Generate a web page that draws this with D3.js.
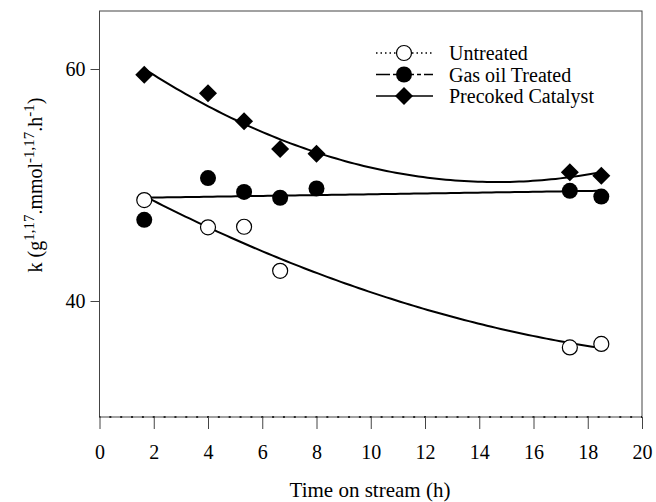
<!DOCTYPE html>
<html>
<head>
    <meta charset="utf-8">
    <title>k vs time on stream</title>
    <script src="https://d3js.org/d3.v7.min.js"></script>
    <style>
        body { margin: 0; background: #fff; }
        text { font-family: "Liberation Serif", "Times New Roman", serif; fill: #000; }
    </style>
</head>
<body>
    <svg width="656" height="502"></svg>
    <script>
        // data
        const xTicks = [0, 2, 4, 6, 8, 10, 12, 14, 16, 18, 20];
        const yTicks = [40, 60];

        const untreatedX = [1.65, 4.0, 5.33, 6.66, 17.34, 18.5];
        const untreatedY = [48.7, 46.35, 46.4, 42.6, 36.0, 36.3];

        const gasOilX = [1.65, 4.0, 5.33, 6.66, 8.0, 17.34, 18.5];
        const gasOilY = [47.0, 50.6, 49.4, 48.9, 49.7, 49.5, 49.0];

        const precokedX = [1.65, 4.0, 5.33, 6.66, 8.0, 17.34, 18.5];
        const precokedY = [59.5, 57.9, 55.5, 53.1, 52.7, 51.1, 50.8];

        const svg = d3.select("svg");

        const x = d3.scaleLinear().domain([0, 20]).range([99.5, 642]);
        const y = d3.scaleLinear().domain([30, 65]).range([417, 11]);

        // least squares polynomial fit (normal equations)
        function polyFit(xs, ys, deg) {
            const n = deg + 1;
            const A = [];
            for (let i = 0; i < n; i++) {
                A.push([]);
                for (let j = 0; j < n; j++) A[i].push(d3.sum(xs, v => Math.pow(v, i + j)));
                A[i].push(d3.sum(xs, (v, k) => Math.pow(v, i) * ys[k]));
            }
            for (let c = 0; c < n; c++) {
                for (let r = c + 1; r < n; r++) {
                    const f = A[r][c] / A[c][c];
                    for (let k = c; k <= n; k++) A[r][k] -= f * A[c][k];
                }
            }
            const coef = new Array(n).fill(0);
            for (let r = n - 1; r >= 0; r--) {
                let s = A[r][n];
                for (let k = r + 1; k < n; k++) s -= A[r][k] * coef[k];
                coef[r] = s / A[r][r];
            }
            return t => coef.reduce((acc, c, i) => acc + c * Math.pow(t, i), 0);
        }

        const series = [
            { name: "Untreated", xs: untreatedX, ys: untreatedY, deg: 2, symbol: "open", dash: "1.5,3" },
            { name: "Gas oil Treated", xs: gasOilX, ys: gasOilY, deg: 1, symbol: "circle", dash: "14,3,4,3" },
            { name: "Precoked Catalyst", xs: precokedX, ys: precokedY, deg: 2, symbol: "diamond", dash: null }
        ];

        // frame
        svg.append("rect")
            .attr("x", x(0)).attr("y", y(65))
            .attr("width", x(20) - x(0)).attr("height", y(30) - y(65))
            .attr("fill", "none").attr("stroke", "#444").attr("stroke-width", 1);

        // dotted line along the bottom
        svg.append("line")
            .attr("x1", x(0)).attr("x2", x(20))
            .attr("y1", y(30)).attr("y2", y(30))
            .attr("stroke", "#000").attr("stroke-width", 1.5)
            .attr("stroke-dasharray", "2," + (x(0.4) - x(0) - 2))
            .attr("stroke-dashoffset", 1);

        // axes
        const xAxis = svg.append("g")
            .attr("transform", `translate(0,${y(30)})`)
            .call(d3.axisBottom(x).tickValues(xTicks).tickSize(12).tickPadding(16).tickFormat(d3.format("d")));
        xAxis.select(".domain").remove();
        xAxis.selectAll(".tick line").attr("stroke", "#444");
        xAxis.selectAll("text").attr("font-size", 20).attr("font-family", "Liberation Serif");

        const yAxis = svg.append("g")
            .attr("transform", `translate(${x(0)},0)`)
            .call(d3.axisLeft(y).tickValues(yTicks).tickSize(9).tickPadding(5));
        yAxis.select(".domain").remove();
        yAxis.selectAll(".tick line").attr("stroke", "#444");
        yAxis.selectAll("text").attr("font-size", 20).attr("font-family", "Liberation Serif");

        // axis titles
        svg.append("text")
            .attr("x", 370).attr("y", 497)
            .attr("text-anchor", "middle")
            .attr("font-size", 21)
            .text("Time on stream (h)");

        const yl = svg.append("text")
            .attr("transform", "translate(42,185) rotate(-90)")
            .attr("text-anchor", "middle")
            .attr("font-size", 20);
        yl.append("tspan").text("k (g");
        yl.append("tspan").attr("dy", -8).attr("font-size", 15).text("1,17");
        yl.append("tspan").attr("dy", 8).text(".mmol");
        yl.append("tspan").attr("dy", -8).attr("font-size", 15).text("-1,17");
        yl.append("tspan").attr("dy", 8).text(".h");
        yl.append("tspan").attr("dy", -8).attr("font-size", 15).text("-1");
        yl.append("tspan").attr("dy", 8).text(")");

        // fitted curves
        const line = d3.line().x(d => x(d[0])).y(d => y(d[1]));
        series.forEach(s => {
            const f = polyFit(s.xs, s.ys, s.deg);
            const [lo, hi] = d3.extent(s.xs);
            const pts = d3.range(0, 101).map(i => {
                const t = lo + (hi - lo) * i / 100;
                return [t, f(t)];
            });
            svg.append("path")
                .attr("d", line(pts))
                .attr("fill", "none")
                .attr("stroke", "#000")
                .attr("stroke-width", 2);
        });

        // markers
        function drawSymbol(g, kind, cx, cy) {
            if (kind === "diamond") {
                g.append("path")
                    .attr("d", `M${cx},${cy - 9}L${cx + 9},${cy}L${cx},${cy + 9}L${cx - 9},${cy}Z`)
                    .attr("fill", "#000");
            } else if (kind === "circle") {
                g.append("circle").attr("cx", cx).attr("cy", cy).attr("r", 8).attr("fill", "#000");
            } else {
                g.append("circle").attr("cx", cx).attr("cy", cy).attr("r", 7.5)
                    .attr("fill", "#fff").attr("stroke", "#000").attr("stroke-width", 1.2);
            }
        }

        const marks = svg.append("g");
        series.forEach(s => {
            s.xs.forEach((v, i) => drawSymbol(marks, s.symbol, x(v), y(s.ys[i])));
        });

        // legend
        const legend = svg.append("g");
        series.forEach((s, i) => {
            const ly = 53 + i * 21.5;
            legend.append("line")
                .attr("x1", 376).attr("x2", 433)
                .attr("y1", ly).attr("y2", ly)
                .attr("stroke", "#000")
                .attr("stroke-width", 1.5)
                .attr("stroke-dasharray", s.dash);
            drawSymbol(legend, s.symbol, 404, ly);
            legend.append("text")
                .attr("x", 449).attr("y", ly + 7)
                .attr("font-size", 20)
                .text(s.name);
        });
    </script>
</body>
</html>
